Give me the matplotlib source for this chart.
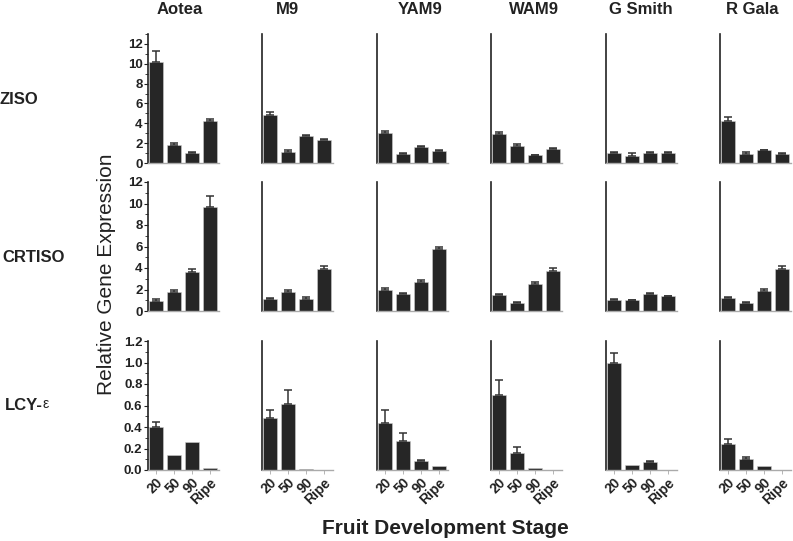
import matplotlib
matplotlib.use('Agg')
import matplotlib.pyplot as plt
from matplotlib.ticker import MultipleLocator

plt.rcParams['font.family'] = ['Liberation Sans', 'DejaVu Sans']

# ------------------------------------------------------------
# data
# ------------------------------------------------------------
cultivars = ['Aotea', 'M9', 'YAM9', 'WAM9', 'G Smith', 'R Gala']
genes = ['ZISO', 'CRTISO', 'LCY-']
stages = ['20', '50', '90', 'Ripe']

ziso_mean = [[10.2, 1.82, 1.0, 4.28],
             [4.87, 1.09, 2.68, 2.29],
             [3.05, 0.86, 1.66, 1.19],
             [2.88, 1.76, 0.76, 1.39],
             [0.96, 0.70, 0.96, 1.03],
             [4.24, 0.93, 1.26, 0.93]]
ziso_err = [[1.05, 0.15, 0.12, 0.13],
            [0.27, 0.2, 0.14, 0.16],
            [0.13, 0.13, 0.06, 0.14],
            [0.24, 0.13, 0.07, 0.1],
            [0.1, 0.29, 0.1, 0.1],
            [0.4, 0.16, 0.1, 0.06]]

crtiso_mean = [[0.93, 1.76, 3.65, 9.68],
               [1.11, 1.79, 1.14, 3.90],
               [1.95, 1.61, 2.66, 5.75],
               [1.52, 0.77, 2.54, 3.71],
               [1.05, 0.99, 1.55, 1.36],
               [1.24, 0.71, 1.89, 3.93]]
crtiso_err = [[0.15, 0.22, 0.25, 0.99],
              [0.13, 0.19, 0.16, 0.28],
              [0.18, 0.09, 0.19, 0.19],
              [0.09, 0.1, 0.18, 0.28],
              [0.09, 0.06, 0.15, 0.06],
              [0.09, 0.09, 0.18, 0.25]]

lcy_mean = [[0.40, 0.14, 0.26, 0.02],
            [0.48, 0.61, 0.01, 0.003],
            [0.44, 0.27, 0.084, 0.034],
            [0.70, 0.16, 0.019, 0.003],
            [1.00, 0.05, 0.071, 0.002],
            [0.24, 0.10, 0.04, 0.002]]
lcy_err = [[0.05, 0.0, 0.0, 0.0],
           [0.08, 0.13, 0.0, 0.0],
           [0.12, 0.07, 0.012, 0.0],
           [0.14, 0.05, 0.0, 0.0],
           [0.09, 0.0, 0.013, 0.0],
           [0.05, 0.024, 0.0, 0.0]]

row_means = [ziso_mean, crtiso_mean, lcy_mean]
row_errs = [ziso_err, crtiso_err, lcy_err]
row_ylims = [13, 12, 1.2]
row_major = [[0, 2, 4, 6, 8, 10, 12], [0, 2, 4, 6, 8, 10, 12],
             [0.0, 0.2, 0.4, 0.6, 0.8, 1.0, 1.2]]
row_minor = [1, 1, 0.1]

# ------------------------------------------------------------
# layout (pixels of a 793x541 figure)
# ------------------------------------------------------------
W, H = 793, 541
col_left = [148, 262, 377, 491, 606, 720]
col_w = 71
row_top = [34, 182, 341]
row_h = 129
title_x = [180, 287, 420, 534, 641, 752]
label_pos = [(0, 100), (2, 258), (5, 406)]

fig = plt.figure(figsize=(W / 100, H / 100), dpi=100)

dark = '#222222'
bar_col = '#262626'

for r in range(3):
    for c in range(6):
        ax = fig.add_axes([col_left[c] / W, 1 - (row_top[r] + row_h) / H,
                           col_w / W, row_h / H])
        x = list(range(4))
        mean = row_means[r][c]
        err = row_errs[r][c]
        ax.bar(x, mean, width=0.8, color=bar_col, edgecolor='#cccccc',
               linewidth=0.4, zorder=2)
        # only draw whiskers where there is a visible error
        ex = [i for i in x if err[i] > 0]
        ax.errorbar(ex, [mean[i] for i in ex],
                    yerr=[[0] * len(ex), [err[i] for i in ex]], fmt='none',
                    ecolor='#333333', elinewidth=1.1, capsize=3, capthick=1.1,
                    zorder=3)
        ax.set_xlim(-0.45, 3.5)
        ax.set_ylim(0, row_ylims[r])
        for s in ['top', 'right']:
            ax.spines[s].set_visible(False)
        ax.spines['left'].set_color(dark)
        ax.spines['left'].set_linewidth(1.2)
        ax.spines['bottom'].set_color('#aaaaaa')
        ax.spines['bottom'].set_linewidth(1.0)

        if c == 0:
            ax.set_yticks(row_major[r])
            ax.yaxis.set_minor_locator(MultipleLocator(row_minor[r]))
            if r == 2:
                ax.set_yticklabels([f'{v:.1f}' for v in row_major[r]])
            else:
                ax.set_yticklabels([f'{v:d}' for v in row_major[r]])
            ax.tick_params(axis='y', which='major', length=3, width=0.8,
                           color=dark, labelsize=9.5, pad=1, labelcolor=dark)
            ax.tick_params(axis='y', which='minor', length=2, width=0.6, color=dark)
            for lab in ax.get_yticklabels():
                lab.set_fontweight('bold')
        else:
            ax.set_yticks([])

        if r == 2:
            ax.set_xticks(x)
            ax.set_xticklabels(stages, rotation=45, ha='right',
                               rotation_mode='anchor', fontsize=10,
                               fontweight='bold', color=dark)
            ax.tick_params(axis='x', length=3, width=0.6, color='#aaaaaa', pad=1)
        else:
            ax.set_xticks([])

        if r == 0:
            fig.text(title_x[c] / W, 1 - 9 / H, cultivars[c], ha='center',
                     va='center', fontsize=12, fontweight='bold', color=dark)

# row labels (gene names)
texts = []
for g, (px, py) in zip(genes, label_pos):
    texts.append(fig.text(px / W, 1 - py / H, g, ha='left', va='center',
                          fontsize=12, fontweight='bold', color=dark))

# small epsilon after "LCY-"
fig.canvas.draw()
bb = texts[2].get_window_extent()
fig.text(bb.x1 / W, (bb.y0 + 3) / H, '\u03b5', ha='left', va='bottom',
         fontsize=10, color=dark)

fig.text(106 / W, 1 - 274 / H, 'Relative Gene Expression', rotation=90,
         ha='center', va='center', fontsize=15, color=dark)
fig.text(445 / W, 1 - 528 / H, 'Fruit Development Stage', ha='center',
         va='center', fontsize=15, fontweight='bold', color=dark)

plt.savefig('out.png', dpi=100)
plt.close()
